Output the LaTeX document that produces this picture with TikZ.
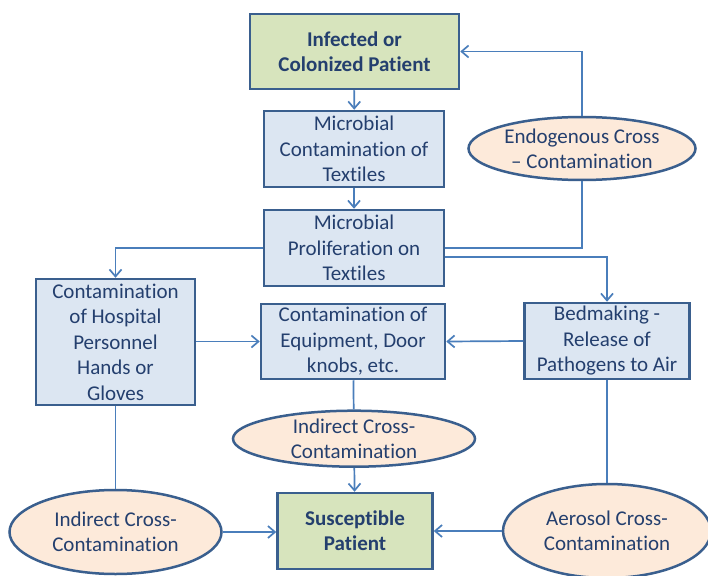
\documentclass[tikz,border=0pt]{standalone}
\usepackage{fontspec}
\setmainfont{Carlito}[Ligatures=NoCommon]
\usetikzlibrary{shapes.geometric,arrows.meta}
\definecolor{txtblue}{HTML}{243F6E}
\definecolor{rimblue}{HTML}{3A5F8E}
\definecolor{lineblue}{HTML}{4A7EBB}
\definecolor{boxfill}{HTML}{DCE6F2}
\definecolor{greenfill}{HTML}{D7E4BD}
\definecolor{peachfill}{HTML}{FDEADA}

\begin{document}
\begin{tikzpicture}[x=1pt,y=-1pt]
\tikzset{
  boite/.style={draw=rimblue, line width=2.5pt, fill=boxfill, rectangle, inner sep=0pt,
    align=center, text=txtblue, font=\fontsize{21}{25.5}\selectfont},
  patient/.style={boite, fill=greenfill, font=\fontsize{21}{25}\selectfont\bfseries},
  ovale/.style={draw=rimblue, line width=2.5pt, fill=peachfill, ellipse, inner sep=0pt},
  ovtexte/.style={align=center, text=txtblue, font=\fontsize{21}{25}\selectfont},
  fleche/.style={draw=lineblue, line width=1.7pt, -{Straight Barb[length=7pt,width=12pt]}},
  trait/.style={draw=lineblue, line width=1.7pt}
}
\clip (0, 0) rectangle (708, 575);
\fill[white] (0, 0) rectangle (708, 575);
\node[patient, minimum width=209, minimum height=75] (infected) at (354.5, 51.5) {Infected or\\Colonized Patient};
\node[boite, minimum width=180, minimum height=76] (contam) at (354, 149) {Microbial\\Contamination of\\Textiles};
\node[boite, minimum width=180, minimum height=76] (prolif) at (354, 248) {Microbial\\Proliferation on\\Textiles};
\node[ovale, minimum width=227, minimum height=63,
  label={[ovtexte]center:Endogenous Cross\\– Contamination}] (endo) at (582, 148.5) {};
\node[boite, minimum width=159, minimum height=126] (hosp) at (115.5, 342) {Contamination\\of Hospital\\Personnel\\Hands or\\Gloves};
\node[boite, minimum width=184, minimum height=75] (equip) at (353, 341.5) {Contamination of\\Equipment, Door\\knobs, etc.};
\node[boite, minimum width=165, minimum height=76] (bed) at (607, 341) {Bedmaking -\\Release of\\Pathogens to Air};
\node[ovale, minimum width=242, minimum height=56,
  label={[ovtexte]center:Indirect Cross-\\Contamination}] (indmid) at (354, 438.7) {};
\node[patient, minimum width=155, minimum height=76] (suscept) at (355, 531) {Susceptible\\Patient};
\node[ovale, minimum width=212, minimum height=84,
  label={[ovtexte]center:Indirect Cross-\\Contamination}] (indleft) at (115.5, 532) {};
\node[ovale, minimum width=208, minimum height=94,
  label={[ovtexte]center:Aerosol Cross-\\Contamination}] (aerosol) at (607, 531) {};
\draw[fleche] (infected) -- (contam);
\draw[fleche] (contam) -- (prolif);
\draw[trait] (prolif.east) -| (endo.south);
\draw[fleche] (endo.north) |- (infected.east);
\draw[fleche] (prolif.east) ++(0, 9) -| (bed.north);
\draw[fleche] (prolif.west) -| (hosp.north);
\draw[fleche] (hosp.east |- equip.west) -- (equip.west);
\draw[fleche] (bed.west) -- (equip.east);
\draw[trait] (equip) -- (indmid);
\draw[fleche] (indmid) -- (suscept);
\draw[trait] (hosp) -- (indleft);
\draw[fleche] (indleft.east) -- (suscept.west |- indleft.east);
\draw[trait] (bed) -- (aerosol);
\draw[fleche] (aerosol.west) -- (suscept.east |- aerosol.west);
\end{tikzpicture}
\end{document}
